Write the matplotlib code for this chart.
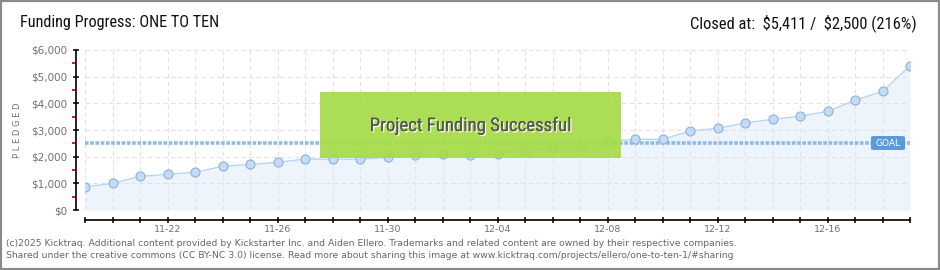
import matplotlib
matplotlib.use("Agg")
import matplotlib.pyplot as plt
import matplotlib.dates as mdates
import matplotlib.patches as mpatches
import matplotlib.patheffects as pe
from matplotlib import font_manager
from matplotlib.ticker import FixedLocator, FuncFormatter
import pandas as pd

# ---------------- data ----------------
start_date = "2025-11-19"
end_date = "2025-12-19"
pledged = [862, 1000, 1263, 1338, 1413, 1638, 1713, 1788, 1912, 1900,
           1900, 1975, 2050, 2100, 2050, 2100, 2225, 2313, 2313, 2588,
           2650, 2650, 2963, 3063, 3263, 3400, 3513, 3700, 4113, 4450, 5411]
goal = 2500
tick_labels = ["11-22", "11-26", "11-30", "12-04", "12-08", "12-12", "12-16"]
y_ticks = [0, 1000, 2000, 3000, 4000, 5000, 6000]
title = "Funding Progress: ONE TO TEN"
closed_text = "Closed at:  \\$5,411 /  \\$2,500 (216%)"
footer1 = ("(c)2025 Kicktraq. Additional content provided by Kickstarter Inc. and Aiden Ellero. "
           "Trademarks and related content are owned by their respective companies.")
footer2 = ("Shared under the creative commons (CC BY-NC 3.0) license. Read more about sharing this "
           "image at www.kicktraq.com/projects/ellero/one-to-ten-1/#sharing")

dates = pd.date_range(start_date, end_date, freq="D")
x = mdates.date2num(dates.to_pydatetime())

# pick the narrowest installed family
installed = {f.name for f in font_manager.fontManager.ttflist}
NARROW = "DejaVu Sans"
for cand in ["Roboto Condensed", "Liberation Sans Narrow", "Open Sans Condensed", "Roboto"]:
    if cand in installed:
        NARROW = cand
        break
plt.rcParams["font.family"] = [NARROW, "DejaVu Sans"]

W, H = 940, 270
fig = plt.figure(figsize=(W / 100, H / 100), dpi=100)
fig.patch.set_facecolor("white")
renderer = fig.canvas.get_renderer()


def fx(px):
    return px / W


def fy(py):
    return 1 - py / H


def fit_text(t, target_w, max_size):
    """shrink font so the text is target_w pixels wide"""
    t.set_fontsize(max_size)
    w = t.get_window_extent(renderer).width
    if w > target_w:
        t.set_fontsize(max_size * target_w / w)
    return t


ax = fig.add_axes([fx(85), fy(210), fx(910) - fx(85), fy(50) - fy(210)])
ax.set_facecolor("none")
ax.set_xlim(x[0], x[-1])
ax.set_ylim(0, 6000)

ax.fill_between(x, pledged, 0, color="#edf4fc", zorder=1, lw=0)
ax.plot(x, pledged, color="#b9d5f2", lw=1.0, zorder=3)
ax.plot(x, pledged, ls="none", marker="o", ms=6.5, mfc="#c3dbf5",
        mec="#8fb1d9", mew=0.8, zorder=4)

ax.axhline(goal, color="#8cbbe9", lw=2.6, ls=(0, (1.0, 0.45)), zorder=2)

ax.grid(True, which="major", color="#e2e2e2", lw=0.8, ls=(0, (4, 3)), zorder=0)

# y axis
ax.yaxis.set_major_locator(FixedLocator(y_ticks))
ax.yaxis.set_minor_locator(FixedLocator([v + 500 for v in y_ticks[:-1]]))
ax.yaxis.set_major_formatter(FuncFormatter(lambda v, p: "\\$" + f"{int(v):,}"))
ax.tick_params(axis="y", which="major", direction="inout", length=5, width=1.1,
               color="black", labelcolor="#707070", pad=4, labelsize=7.5,
               labelfontfamily="DejaVu Sans")
ax.tick_params(axis="y", which="minor", direction="out", length=3, width=1.3,
               color="#e00000")

# x axis
label_pos = {mdates.date2num(pd.Timestamp("2025-" + t).to_pydatetime()): t for t in tick_labels}
ax.xaxis.set_major_locator(FixedLocator(list(x)))
ax.xaxis.set_major_formatter(FuncFormatter(
    lambda v, p: next((t for k, t in label_pos.items() if abs(k - v) < 0.01), "")))
ax.tick_params(axis="x", which="major", direction="inout", length=5, width=1.1,
               color="black", labelcolor="#707070", pad=1.0, labelsize=6.8,
               labelfontfamily="DejaVu Sans")

for s in ["top", "right"]:
    ax.spines[s].set_visible(False)
ax.spines["left"].set_position(("outward", 9 * 0.72))
ax.spines["bottom"].set_position(("outward", 10 * 0.72))
ax.spines["left"].set_bounds(0, 6000)
ax.spines["bottom"].set_bounds(x[0], x[-1])
ax.spines["left"].set_linewidth(1.2)
ax.spines["bottom"].set_linewidth(1.2)

# GOAL label
gx0, gx1, gy0, gy1 = 871, 905, 136, 150
fig.patches.append(mpatches.FancyBboxPatch(
    (fx(gx0), fy(gy1)), fx(gx1) - fx(gx0), fy(gy0) - fy(gy1),
    boxstyle="round,pad=0,rounding_size=0.004", transform=fig.transFigure,
    facecolor="#5b9bd9", edgecolor="none", zorder=5))
fig.text(fx((gx0 + gx1) / 2), fy((gy0 + gy1) / 2), "GOAL", color="white",
         fontsize=6.5, ha="center", va="center", family=["DejaVu Sans"], zorder=6)

# success banner
bx0, bx1, by0, by1 = 320, 621, 92, 158
fig.patches.append(mpatches.Rectangle(
    (fx(bx0), fy(by1)), fx(bx1) - fx(bx0), fy(by0) - fy(by1),
    transform=fig.transFigure, facecolor="#a6dc48", edgecolor="none",
    alpha=0.93, zorder=5))
banner = fig.text(fx((bx0 + bx1) / 2), fy(126), "Project Funding Successful",
                  color="#555555", ha="center", va="center", zorder=6,
                  path_effects=[pe.withSimplePatchShadow(offset=(1, -1), shadow_rgbFace="white", alpha=0.9),
                                pe.Normal()])
fit_text(banner, 207, 13.5)

# titles
t1 = fig.text(fx(20), fy(23), title, color="#111111", ha="left", va="center")
fit_text(t1, 200, 13.5)
t2 = fig.text(fx(917), fy(23), closed_text, color="#111111", ha="right", va="center")
fit_text(t2, 227, 13.5)

# y label
fig.text(fx(18), fy(130), "P L E D G E D", rotation=90, fontsize=6, color="#707070",
         ha="center", va="center", family=["DejaVu Sans"])

# footer
f1 = fig.text(fx(6), fy(243), footer1, color="#666666", ha="left", va="center",
              family=["DejaVu Sans"])
fit_text(f1, 730, 8)
f2 = fig.text(fx(6), fy(256), footer2, color="#666666", ha="left", va="center",
              family=["DejaVu Sans"], fontsize=f1.get_fontsize())

# border
fig.patches.append(mpatches.Rectangle((0, 0), 1, 1, transform=fig.transFigure,
                                      facecolor="none", edgecolor="#8a8a8a", lw=3, zorder=10))

fig.savefig("out.png", dpi=100)
